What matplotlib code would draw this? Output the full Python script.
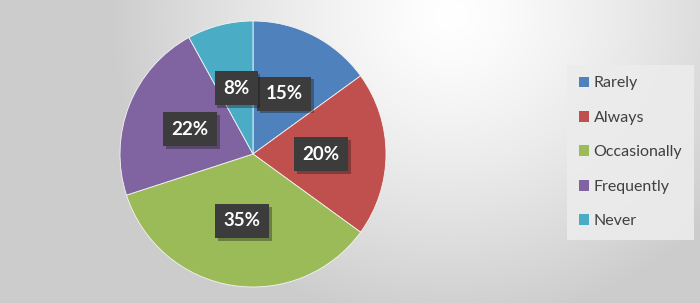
import numpy as np
import matplotlib
matplotlib.use("Agg")
import matplotlib.pyplot as plt
import matplotlib.patheffects as pe

categories = ["Rarely", "Always", "Occasionally", "Frequently", "Never"]
values = [15, 20, 35, 22, 8]
colors = ["#4F81BD", "#C0504D", "#9BBB59", "#8064A2", "#4BACC6"]

W, H = 700, 303
fig = plt.figure(figsize=(W / 100, H / 100), dpi=100)

# radial gradient background
bg = fig.add_axes([0, 0, 1, 1])
yy, xx = np.mgrid[0:H, 0:W]
d = np.sqrt(((xx - 450) / 330.0) ** 2 + ((yy - 15) / 300.0) ** 2)
g = np.clip(1.0 - 0.19 * d ** 1.3, 0.80, 1.0)
img = np.dstack([g, g, g])
bg.imshow(img, extent=[0, W, H, 0], aspect="auto", interpolation="bilinear")
bg.set_axis_off()

ax = fig.add_axes([120 / W, (H - 154 - 133) / H, 266 / W, 266 / H])
wedges, texts, autotexts = ax.pie(
    values, colors=colors, startangle=90, counterclock=False,
    autopct=lambda p: f"{p:.0f}%", pctdistance=0.51,
    wedgeprops=dict(edgecolor="#f4f4f4", linewidth=0.6),
    textprops=dict(color="white", fontsize=13.5, fontweight="bold", family=["Lato", "DejaVu Sans"]),
)
ax.set_xlim(-1, 1)
ax.set_ylim(-1, 1)
for t in autotexts:
    t.set_bbox(dict(boxstyle="square,pad=0.45", facecolor="#3c3c3c", edgecolor="none"))
    t.get_bbox_patch().set_path_effects([pe.SimplePatchShadow(offset=(2, -2), alpha=0.35), pe.Normal()])
ax.set_aspect("equal")

leg = fig.legend(
    wedges, categories, loc="upper left", bbox_to_anchor=(567 / W, 1 - 65 / H),
    frameon=True, fancybox=False, facecolor="#ececec", edgecolor="none", framealpha=0.9,
    prop=dict(family=["Lato", "DejaVu Sans"], size=11.5), labelcolor="#404040",
    handlelength=0.65, handleheight=0.65, handletextpad=0.3, labelspacing=1.28,
    borderpad=0.72, borderaxespad=0,
)
for h in leg.legend_handles:
    h.set_edgecolor("none")

fig.savefig("out.png", dpi=100)
